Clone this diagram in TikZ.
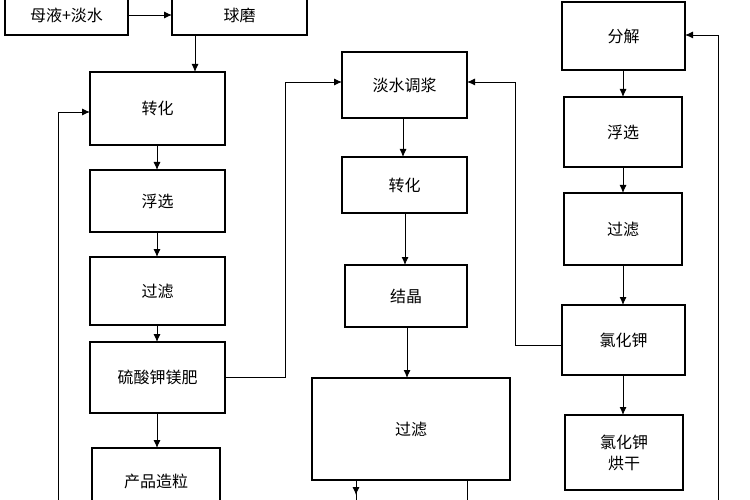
\documentclass[tikz,border=0pt]{standalone}
\usepackage{fontspec}
\usetikzlibrary{arrows.meta}
\setmainfont{Noto Sans CJK SC}
\begin{document}
\begin{tikzpicture}[x=1pt,y=-1pt,
  bx/.style={draw,line width=1.3pt},
  ar/.style={-{Latex[length=8pt,width=7pt]},line width=0.9pt},
  ln/.style={line width=0.9pt}]
\useasboundingbox (0,0) rectangle (750,500);
\begin{scope}
\clip (0,0) rectangle (750,500);
\newcommand\bxn[6]{\draw[bx] (#2,#3) rectangle (#4,#5); \node[font=\fontsize{16}{21}\selectfont,align=center] (#1) at ({(#2+#4)/2},{(#3+#5)/2}) {#6};}
\bxn{mu}{5}{-5}{128}{35}{母液+淡水}
\bxn{qm}{172}{-5}{307}{35}{球磨}
\bxn{zh}{90}{72}{225}{145}{转化}
\bxn{fx}{90}{170}{225}{232}{浮选}
\bxn{gl}{90}{257}{225}{325}{过滤}
\bxn{ls}{90}{342}{225}{413}{硫酸钾镁肥}
\bxn{cp}{92}{448}{220}{515}{产品造粒}
\bxn{ds}{342}{52}{467}{118}{淡水调浆}
\bxn{zb}{342}{157}{467}{213}{转化}
\bxn{jj}{345}{265}{467}{327}{结晶}
\bxn{gb}{312}{378}{510}{480}{过滤}
\bxn{fj}{562}{2}{685}{70}{分解}
\bxn{fc}{564}{97}{682}{167}{浮选}
\bxn{gc}{564}{193}{682}{265}{过滤}
\bxn{lh}{562}{305}{685}{375}{氯化钾}
\bxn{hg}{565}{415}{683}{490}{氯化钾\\烘干}
\coordinate (b1) at (58,500);
\coordinate (b2) at (356,500);
\coordinate (b3) at (467,500);
\coordinate (b4) at (718,500);
\draw[ar] (128,15) -- (172,15);
\draw[ar] (195,35) -- (195,72);
\draw[ar] (157,145) -- (157,170);
\draw[ar] (157,232) -- (157,257);
\draw[ar] (157,325) -- (157,342);
\draw[ar] (157,413) -- (157,448);
\draw[ar] (b1) -- (58,112) -- (90,112);
\draw[ar] (225,377) -- (285,377) -- (285,82) -- (342,82);
\draw[ar] (403,118) -- (403,157);
\draw[ar] (405,213) -- (405,265);
\draw[ar] (407,327) -- (407,378);
\draw[ar] (356,480) -- (356,495);
\draw[ln] (356,490) -- (b2);
\draw[ln] (467,480) -- (b3);
\draw[ar] (562,345) -- (515,345) -- (515,82) -- (467,82);
\draw[ar] (623,70) -- (623,97);
\draw[ar] (623,167) -- (623,193);
\draw[ar] (623,265) -- (623,305);
\draw[ar] (623,375) -- (623,415);
\draw[ar] (b4) -- (718,35) -- (685,35);
\end{scope}
\end{tikzpicture}
\end{document}
